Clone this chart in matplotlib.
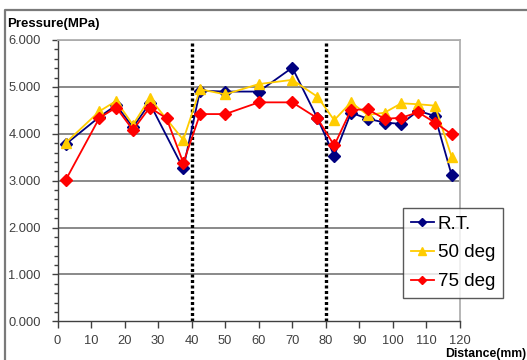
import matplotlib
matplotlib.use("Agg")
import matplotlib.pyplot as plt
from matplotlib.lines import Line2D
from matplotlib.ticker import MultipleLocator, FormatStrFormatter

plt.rcParams['font.family'] = ['Liberation Sans', 'DejaVu Sans']

# Measurement positions (mm) and pressures (MPa)
x_rt = [2.5, 12.5, 17.5, 22.5, 27.5, 37.5, 42.5, 50, 60, 70, 77.5,
        82.5, 87.5, 92.5, 97.5, 102.5, 107.5, 112.5, 117.5]
p_rt = [3.78, 4.36, 4.61, 4.14, 4.65, 3.26, 4.92, 4.90, 4.90, 5.41, 4.33,
        3.53, 4.45, 4.32, 4.24, 4.21, 4.49, 4.38, 3.12]

x_50 = [2.5, 12.5, 17.5, 22.5, 27.5, 37.5, 42.5, 50, 60, 70, 77.5,
        82.5, 87.5, 92.5, 97.5, 102.5, 107.5, 112.5, 117.5]
p_50 = [3.81, 4.48, 4.70, 4.19, 4.76, 3.87, 4.95, 4.84, 5.06, 5.15, 4.79,
        4.29, 4.67, 4.40, 4.45, 4.65, 4.63, 4.60, 3.51]

x_75 = [2.5, 12.5, 17.5, 22.5, 27.5, 32.5, 37.5, 42.5, 50, 60, 70, 77.5,
        82.5, 87.5, 92.5, 97.5, 102.5, 107.5, 112.5, 117.5]
p_75 = [3.02, 4.34, 4.56, 4.08, 4.56, 4.33, 3.38, 4.42, 4.42, 4.67, 4.67, 4.33,
        3.75, 4.51, 4.52, 4.32, 4.34, 4.46, 4.24, 3.99]

series_names = ["R.T.", "50 deg", "75 deg"]
boundaries = [40, 80]

W, H = 527, 360
fig = plt.figure(figsize=(W / 100, H / 100), dpi=100)
fig.patch.set_facecolor("white")

# outer chart frame (top and left edges)
fig.add_artist(Line2D([5 / W, 5 / W, 1.0], [0.0, 1 - 10 / H, 1 - 10 / H],
                      transform=fig.transFigure, color="#7a7a7a", lw=1.6))

ax = fig.add_axes([57.5 / W, (H - 321.3) / H, (460 - 57.5) / W, (321.3 - 40) / H])

ax.set_xlim(0, 120)
ax.set_ylim(0, 6)

ax.xaxis.set_major_locator(MultipleLocator(10))
ax.yaxis.set_major_locator(MultipleLocator(1))
ax.yaxis.set_minor_locator(MultipleLocator(0.2))
ax.yaxis.set_major_formatter(FormatStrFormatter("%.3f"))

for y in range(1, 7):
    ax.axhline(y, color="#808080", lw=1.3, zorder=1)

for b in boundaries:
    ax.axvline(b, color="black", lw=2.4, linestyle=(0, (0.9, 0.75)), zorder=2)

ax.plot(x_rt, p_rt, color="#000080", marker="D", markersize=6, lw=1.3,
        label=series_names[0], zorder=3)
ax.plot(x_50, p_50, color="#FFCC00", marker="^", markersize=7.5, lw=1.3,
        label=series_names[1], zorder=4)
ax.plot(x_75, p_75, color="#FF0000", marker="D", markersize=6, lw=1.3,
        label=series_names[2], zorder=5)

for side in ["top", "right"]:
    ax.spines[side].set_color("#b0b0b0")
    ax.spines[side].set_linewidth(1.3)
for side in ["left", "bottom"]:
    ax.spines[side].set_color("#404040")
    ax.spines[side].set_linewidth(1.0)

ax.tick_params(axis="both", which="both", direction="out", colors="#404040",
               labelcolor="#404040", labelsize=9.3)
ax.tick_params(axis="y", which="major", length=4, width=1, pad=8)
ax.tick_params(axis="y", which="minor", length=3, width=1)
ax.tick_params(axis="x", which="major", length=5, width=1, pad=5)

fig.text(7 / W, 1 - 24 / H, "Pressure(MPa)", fontsize=9.5, fontweight="bold",
         va="center", ha="left", color="black")
fig.text(526 / W, 1 - 354 / H, "Distance(mm)", fontsize=8.8, fontweight="bold",
         va="center", ha="right", color="black")

leg = ax.legend(loc="upper left", bbox_to_anchor=((403 - 57.5) / (460 - 57.5),
                (321.3 - 208) / (321.3 - 40)), fontsize=13.5, frameon=True,
                fancybox=False, edgecolor="#303030", handlelength=1.25,
                handletextpad=0.2, borderpad=0.4, labelspacing=0.62,
                borderaxespad=0, markerscale=0.7)
leg.get_frame().set_linewidth(1.0)
leg.set_zorder(10)

fig.savefig("out.png", dpi=100, facecolor="white")
